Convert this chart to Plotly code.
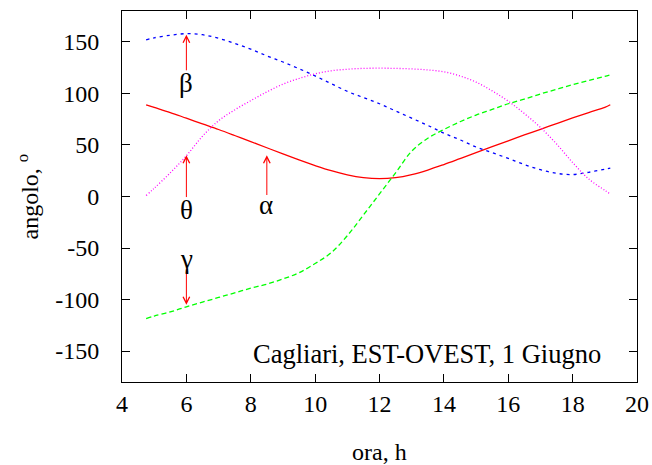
import plotly.graph_objects as go

# hours of the day
ora = [4.75, 5, 5.5, 6, 6.5, 7, 7.5, 8, 8.5, 9, 9.5, 10, 10.5, 11, 11.5, 12,
       12.5, 13, 13.5, 14, 14.5, 15, 15.5, 16, 16.5, 17, 17.5, 18, 18.5, 19, 19.17]

alpha = [89, 86.5, 81.5, 76, 70.5, 65, 59.2, 53.3, 47.3, 41.3, 35.5, 30, 25, 21, 18.3, 17.3,
         18.3, 21.3, 25.7, 31, 36.7, 42.5, 48.3, 54, 59.7, 65.2, 70.7, 76.2, 81.5, 86.5, 89]

beta = [152, 154, 156.5, 158, 157, 153.5, 148.5, 143, 136.5, 130.5, 124, 117, 109.5, 102, 96, 90,
        83, 76, 69, 61.5, 55, 48, 42.5, 37, 31, 26, 22.5, 21.3, 23.5, 26.5, 27.5]

gamma = [-118.5, -116, -112, -107, -102.5, -98, -93.5, -89, -85, -80, -74, -65, -54.5, -38, -18, 2.5,
         23, 44, 56.5, 65, 72.5, 79, 84.5, 90, 94.5, 99.5, 104, 108.5, 112.5, 116.5, 118]

theta = [1, 8, 23, 39.5, 58.5, 73.5, 84, 93, 101.5, 109, 114.5, 119, 122, 123.5, 124.3, 124.5,
         124.3, 123.8, 122.8, 121, 117, 111, 102.5, 92.5, 80.5, 67, 51, 33, 17, 6, 2.5]

x_ticks = [4, 6, 8, 10, 12, 14, 16, 18, 20]
y_ticks = [-150, -100, -50, 0, 50, 100, 150]
y_ticktext = ["-150", "-100", "-50", "0", "50", "100", "150"]

# arrows: (x, y_tail, y_head) and labels (text, x, y)
arrows = [(6, 121, 157), (6, -2, 40), (8.5, 0, 40), (6, -70, -105)]
labels = [("β", 6, 110), ("θ", 6, -13), ("α", 8.48, -8), ("γ", 6, -61)]
caption = "Cagliari, EST-OVEST, 1 Giugno"

FONT = "Liberation Serif, Times New Roman, serif"

fig = go.Figure()
fig.add_trace(go.Scatter(x=ora, y=alpha, mode="lines", line=dict(color="#ff0000", width=1.3),
                         line_shape="spline", name="alpha"))
fig.add_trace(go.Scatter(x=ora, y=gamma, mode="lines",
                         line=dict(color="#00ff00", width=1.3, dash="5px,3px"),
                         line_shape="spline", name="gamma"))
fig.add_trace(go.Scatter(x=ora, y=beta, mode="lines",
                         line=dict(color="#0000ff", width=1.3, dash="3px,4px"),
                         line_shape="spline", name="beta"))
fig.add_trace(go.Scatter(x=ora, y=theta, mode="lines",
                         line=dict(color="#ff00ff", width=1.3, dash="1px,2px"),
                         line_shape="spline", name="theta"))

annotations = []
for (ax_x, y_tail, y_head) in arrows:
    annotations.append(dict(x=ax_x, y=y_head, ax=ax_x, ay=y_tail, xref="x", yref="y",
                            axref="x", ayref="y", text="", showarrow=True,
                            arrowhead=5, arrowsize=1.3, arrowwidth=1, arrowcolor="#ff0000"))
for (t, lx, ly) in labels:
    annotations.append(dict(x=lx, y=ly, xref="x", yref="y", text=t, showarrow=False,
                            font=dict(family=FONT, size=27, color="black"),
                            xanchor="center", yanchor="middle"))
annotations.append(dict(x=8, y=-153, xref="x", yref="y", text=caption, showarrow=False,
                        font=dict(family=FONT, size=26.5, color="black"),
                        xanchor="left", yanchor="middle"))
annotations.append(dict(x=0.5, y=0, xref="paper", yref="paper", text="ora, h", showarrow=False,
                        font=dict(family=FONT, size=24, color="black"),
                        xanchor="center", yanchor="middle", yshift=-70))
annotations.append(dict(x=0, y=0.5, xref="paper", yref="paper", text="angolo, <sup>o</sup>",
                        showarrow=False, textangle=-90,
                        font=dict(family=FONT, size=24, color="black"),
                        xanchor="center", yanchor="middle", xshift=-95))

axis_common = dict(showgrid=False, zeroline=False, showline=True, linecolor="black",
                   linewidth=1, mirror="ticks", ticks="inside", ticklen=8, tickwidth=1,
                   tickcolor="black", automargin=False,
                   tickfont=dict(family=FONT, size=24, color="black"))

fig.update_layout(
    width=652, height=465,
    margin=dict(l=121.5, r=15, t=10.5, b=83, autoexpand=False),
    paper_bgcolor="white", plot_bgcolor="white",
    showlegend=False,
    annotations=annotations,
    xaxis=dict(range=[4, 20], tickvals=x_ticks, ticklabelstandoff=0, **axis_common),
    yaxis=dict(range=[-180, 180], tickvals=y_ticks, ticktext=y_ticktext,
               ticklabelstandoff=17, **axis_common),
)

fig.write_html("out.html", config={"displayModeBar": False},
               post_script="document.body.style.margin='0';")
